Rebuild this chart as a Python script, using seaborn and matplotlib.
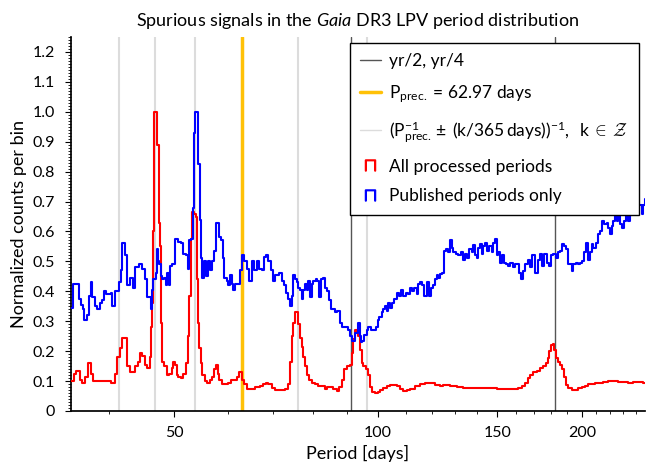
import numpy as np
import pandas as pd
import seaborn as sns
import matplotlib.pyplot as plt
from matplotlib.lines import Line2D
from matplotlib.ticker import FixedLocator, FuncFormatter, MultipleLocator, NullFormatter

# values (period in days, normalized counts)
red_period = [35.15, 35.55, 35.83, 36.33, 36.54, 36.95, 37.29, 37.63, 37.92, 40.36, 40.83, 41.19,
              41.53, 41.85, 42.60, 42.94, 43.79, 44.20, 44.50, 44.80, 45.21, 45.64, 46.03, 46.19,
              46.39, 46.55, 46.71, 47.18, 47.45, 47.62, 47.78, 47.99, 48.33, 48.72, 49.10, 49.55,
              49.82, 50.11, 50.40, 50.67, 51.14, 51.54, 51.96, 52.32, 52.61, 52.86, 53.15, 53.52,
              53.78, 53.97, 54.16, 54.39, 54.71, 55.01, 55.49, 55.93, 56.44, 56.76, 57.15, 57.54,
              57.93, 58.19, 58.73, 60.06, 60.62, 61.80, 62.29, 62.86, 63.36, 63.94, 64.66, 65.77,
              66.90, 67.66, 68.28, 68.82, 69.61, 70.40, 72.83, 73.66, 74.08, 74.51, 74.92, 75.35,
              76.20, 76.64, 77.08, 77.50, 77.95, 78.40, 79.10, 79.75, 80.65, 81.56, 83.43, 84.08,
              85.82, 86.82, 87.59, 88.31, 89.00, 90.02, 90.83, 91.35, 91.85, 92.39, 92.92, 93.44,
              93.97, 94.52, 95.05, 95.81, 96.47, 97.22, 97.98, 98.89, 99.80, 100.58, 101.72, 102.89,
              104.06, 106.44, 107.66, 108.87, 110.12, 111.38, 113.29, 115.23, 117.21, 121.26, 123.2,
              124.73, 127.60, 130.55, 133.5, 136.58, 139.72, 149.56, 152.11, 160.96, 162.85, 164.66,
              166.18, 167.49, 169.39, 171.37, 173.28, 175.27, 176.67, 177.92, 178.95, 179.88, 181.1,
              181.92, 182.77, 184.0, 185.47, 186.94, 188.2, 189.29, 190.81, 193.0, 197.41, 199.72,
              201.93, 204.25, 208.91, 214.9, 218.58, 222.34, 226.16, 230.0, 233.94, 237.98, 242.04,
              246.2, 250.0]
red_counts = [0.10, 0.125, 0.135, 0.105, 0.095, 0.115, 0.16, 0.125, 0.10, 0.095, 0.125, 0.18,
              0.21, 0.245, 0.15, 0.13, 0.15, 0.165, 0.195, 0.185, 0.155, 0.145, 0.18, 0.28,
              0.36, 0.60, 1.00, 0.89, 0.63, 0.55, 0.295, 0.165, 0.15, 0.12, 0.125, 0.145,
              0.165, 0.155, 0.12, 0.115, 0.11, 0.125, 0.16, 0.25, 0.385, 0.575, 0.665, 0.66,
              0.65, 0.44, 0.295, 0.21, 0.16, 0.12, 0.10, 0.095, 0.105, 0.115, 0.14, 0.155,
              0.125, 0.105, 0.09, 0.095, 0.105, 0.115, 0.13, 0.105, 0.09, 0.075, 0.073, 0.08,
              0.083, 0.09, 0.095, 0.09, 0.078, 0.07, 0.073, 0.09, 0.165, 0.25, 0.295, 0.33,
              0.29, 0.245, 0.215, 0.18, 0.15, 0.12, 0.105, 0.095, 0.09, 0.085, 0.075, 0.08,
              0.073, 0.067, 0.08, 0.105, 0.14, 0.15, 0.155, 0.195, 0.24, 0.27, 0.265, 0.25,
              0.205, 0.16, 0.15, 0.14, 0.12, 0.08, 0.065, 0.06, 0.065, 0.07, 0.078, 0.085,
              0.088, 0.082, 0.074, 0.068, 0.07, 0.075, 0.085, 0.09, 0.093, 0.088, 0.085,
              0.088, 0.084, 0.08, 0.076, 0.078, 0.076, 0.075, 0.073, 0.076, 0.082, 0.093,
              0.11, 0.12, 0.13, 0.135, 0.143, 0.15, 0.16, 0.177, 0.20, 0.222, 0.225,
              0.205, 0.177, 0.165, 0.155, 0.14, 0.115, 0.087, 0.076, 0.07, 0.076, 0.08,
              0.085, 0.09, 0.093, 0.097, 0.099, 0.10, 0.097, 0.097, 0.095, 0.097, 0.097,
              0.095, 0.095]

blue_period = [35.15, 35.43, 36.11, 36.43, 36.60, 36.77, 37.18, 37.36, 37.62, 37.83, 38.14, 38.40,
               38.80, 39.10, 39.33, 39.67, 40.35, 40.49, 40.82, 41.37, 41.65, 41.85, 42.32, 42.60,
               42.94, 43.42, 43.79, 44.30, 44.80, 45.21, 45.64, 46.19, 46.39, 46.55, 46.97, 47.18,
               47.34, 47.51, 47.73, 47.99, 48.33, 48.55, 48.83, 49.10, 49.33, 49.65, 50.11, 50.67,
               51.14, 51.54, 51.96, 52.32, 52.55, 52.91, 53.22, 53.40, 53.64, 54.25, 54.56, 54.75,
               55.00, 55.37, 55.68, 56.00, 56.44, 56.76, 57.21, 57.54, 58.19, 58.59, 58.92, 59.25,
               59.73, 60.06, 60.41, 60.76, 61.10, 61.45, 62.56, 62.99, 63.42, 63.93, 64.51, 65.03,
               65.54, 66.15, 66.74, 67.28, 67.81, 68.28, 68.82, 69.37, 69.85, 70.40, 71.43, 72.01,
               72.57, 73.08, 73.49, 74.08, 74.51, 74.92, 75.35, 75.79, 76.20, 76.64, 77.08, 77.50,
               77.95, 78.40, 78.84, 79.29, 79.75, 80.19, 80.92, 81.29, 81.85, 82.31, 82.97, 83.43,
               84.08, 84.66, 85.07, 86.32, 86.99, 87.80, 88.49, 90.11, 90.83, 91.35, 92.39, 93.44,
               93.89, 94.31, 94.73, 95.38, 96.16, 96.69, 97.57, 99.13, 99.80, 100.34, 101.16, 101.71,
               102.31, 102.89, 103.46, 104.06, 104.66, 105.6, 106.45, 107.28, 108.0, 108.87, 109.74,
               110.5, 111.38, 112.25, 113.02, 113.95, 114.58, 115.35, 116.14, 116.93, 117.9, 118.82,
               119.7, 120.6, 121.26, 121.95, 122.6, 123.55, 124.4, 124.94, 125.8, 126.77, 127.60,
               128.34, 129.05, 130.23, 131.25, 132.3, 133.22, 134.28, 135.33, 136.25, 137.38, 138.13,
               138.93, 139.73, 140.5, 141.30, 142.12, 142.9, 143.73, 144.86, 145.86, 147.05, 147.87,
               148.70, 149.56, 150.39, 151.24, 152.12, 153.32, 154.36, 155.57, 156.47, 157.9, 159.16,
               161.5, 162.44, 163.4, 164.66, 166.18, 167.49, 168.8, 170.36, 171.96, 173.28, 174.67,
               175.87, 177.3, 178.8, 179.88, 181.3, 182.77, 184.0, 185.47, 186.94, 188.2, 189.1,
               190.4, 193.0, 194.05, 195.64, 196.98, 198.52, 200.1, 201.5, 202.5, 203.9, 205.39,
               206.58, 207.72, 209.4, 210.85, 212.49, 214.17, 215.6, 217.4, 218.58, 219.84, 221.1,
               222.34, 223.60, 224.9, 226.16, 227.44, 228.8, 230.4, 231.9, 233.5, 235.30, 237.1,
               238.7, 240.7, 242.6, 244.8, 246.4, 247.6, 250.0]
blue_counts = [0.345, 0.425, 0.375, 0.355, 0.34, 0.305, 0.32, 0.385, 0.43, 0.38, 0.35, 0.34,
               0.36, 0.37, 0.40, 0.39, 0.395, 0.35, 0.40, 0.43, 0.47, 0.56, 0.52, 0.42,
               0.445, 0.41, 0.48, 0.49, 0.475, 0.44, 0.38, 0.34, 0.405, 0.44, 0.46, 0.54,
               0.50, 0.49, 0.45, 0.44, 0.445, 0.42, 0.46, 0.42, 0.485, 0.49, 0.575, 0.565,
               0.56, 0.525, 0.52, 0.475, 0.57, 0.575, 0.68, 0.93, 1.00, 0.825, 0.64, 0.51,
               0.445, 0.50, 0.45, 0.50, 0.47, 0.50, 0.535, 0.63, 0.58, 0.57, 0.51, 0.445,
               0.435, 0.42, 0.455, 0.425, 0.405, 0.425, 0.47, 0.52, 0.50, 0.475, 0.435, 0.50,
               0.47, 0.50, 0.475, 0.47, 0.515, 0.52, 0.50, 0.47, 0.435, 0.455, 0.46, 0.435,
               0.42, 0.395, 0.375, 0.35, 0.385, 0.455, 0.44, 0.43, 0.41, 0.405, 0.375, 0.405,
               0.425, 0.405, 0.435, 0.38, 0.425, 0.435, 0.44, 0.435, 0.38, 0.44, 0.445, 0.41,
               0.40, 0.37, 0.34, 0.33, 0.335, 0.295, 0.28, 0.27, 0.25, 0.235, 0.26, 0.295,
               0.25, 0.23, 0.235, 0.255, 0.27, 0.28, 0.27, 0.28, 0.305, 0.315, 0.33, 0.34,
               0.35, 0.335, 0.36, 0.345, 0.36, 0.375, 0.395, 0.385, 0.405, 0.385, 0.395,
               0.39, 0.41, 0.40, 0.41, 0.39, 0.425, 0.43, 0.42, 0.385, 0.43, 0.385,
               0.41, 0.42, 0.44, 0.455, 0.445, 0.457, 0.462, 0.535, 0.54, 0.53, 0.57,
               0.545, 0.53, 0.525, 0.52, 0.53, 0.505, 0.525, 0.51, 0.54, 0.53, 0.555,
               0.52, 0.51, 0.545, 0.557, 0.525, 0.552, 0.56, 0.535, 0.552, 0.53, 0.56,
               0.575, 0.52, 0.53, 0.495, 0.52, 0.495, 0.49, 0.485, 0.495, 0.48, 0.49,
               0.462, 0.44, 0.468, 0.49, 0.505, 0.48, 0.52, 0.462, 0.505, 0.525, 0.485,
               0.525, 0.495, 0.485, 0.52, 0.525, 0.51, 0.53, 0.535, 0.557, 0.552, 0.54,
               0.49, 0.468, 0.49, 0.495, 0.49, 0.495, 0.50, 0.53, 0.562, 0.505, 0.53,
               0.557, 0.545, 0.562, 0.59, 0.60, 0.636, 0.625, 0.63, 0.61, 0.59, 0.617,
               0.636, 0.66, 0.636, 0.655, 0.625, 0.61, 0.636, 0.66, 0.636, 0.655, 0.67,
               0.665, 0.677, 0.687, 0.66, 0.687, 0.71, 0.71]

p_prec = 62.97                     # days
year = 365.25
alias_k = [3, 2, 1, -1, -2]        # aliases visible in the window
x_major = [50, 100, 150, 200]
x_minor = [40, 60, 70, 80, 90, 110, 120, 130, 140, 160, 170, 180, 190, 210, 220, 230, 240]

sns.set_theme(style='ticks', rc={'axes.edgecolor': 'black', 'xtick.color': 'black',
                                 'ytick.color': 'black', 'text.color': 'black',
                                 'axes.labelcolor': 'black'})
plt.rcParams['font.family'] = ['Lato', 'DejaVu Sans']
plt.rcParams['mathtext.fontset'] = 'custom'
plt.rcParams['mathtext.rm'] = 'Lato'
plt.rcParams['mathtext.sf'] = 'Lato'
plt.rcParams['mathtext.it'] = 'Lato:italic'
plt.rcParams['mathtext.bf'] = 'Lato:bold'
plt.rcParams['mathtext.cal'] = 'cmsy10'

fig = plt.figure(figsize=(6.46, 4.62), dpi=100)
ax = fig.add_axes([0.1094, 0.1104, 0.889, 0.8095])

# spurious-period markers
for p in [year / 4, year / 2]:
    ax.axvline(p, color='#555555', lw=1, zorder=1)
for k in alias_k:
    ax.axvline(1 / (1 / p_prec + k / 365), color='#dcdcdc', lw=1.5, zorder=1)
ax.axvline(p_prec, color='#ffc107', lw=2.5, zorder=1)

red = pd.DataFrame({'period': red_period, 'counts': red_counts})
blue = pd.DataFrame({'period': blue_period, 'counts': blue_counts})
sns.lineplot(data=red, x='period', y='counts', color='red', linewidth=1.5,
             drawstyle='steps-post', ax=ax, zorder=3)
sns.lineplot(data=blue, x='period', y='counts', color='blue', linewidth=1.5,
             drawstyle='steps-post', ax=ax, zorder=3)

ax.set_xscale('log')
ax.set_xlim(35.15, 247.7)
ax.set_ylim(0, 1.25)
ax.xaxis.set_major_locator(FixedLocator(x_major))
ax.xaxis.set_major_formatter(FuncFormatter(lambda v, _: f'{v:g}'))
ax.xaxis.set_minor_locator(FixedLocator(x_minor))
ax.xaxis.set_minor_formatter(NullFormatter())
ax.yaxis.set_major_locator(MultipleLocator(0.1))
ax.yaxis.set_minor_locator(MultipleLocator(0.01))
ax.yaxis.set_major_formatter(FuncFormatter(lambda v, _: '0' if abs(v) < 1e-9 else f'{v:.1f}'))
ax.tick_params(which='major', direction='out', length=4, width=0.8, labelsize=11.5)
ax.tick_params(which='minor', direction='out', length=2, width=0.6)
ax.tick_params(axis='y', which='major', pad=7.5)
ax.tick_params(axis='x', which='major', pad=6.5)
ax.spines[['top', 'right']].set_visible(False)

ax.set_xlabel('Period [days]', fontsize=13)
ax.set_ylabel('Normalized counts per bin', fontsize=13)
ax.set_title(r'Spurious signals in the $\mathit{Gaia}$ DR3 LPV period distribution',
             fontsize=13, pad=8)

handles = [Line2D([], [], color='#555555', lw=1),
           Line2D([], [], color='#ffc107', lw=2.5),
           Line2D([], [], color='#dcdcdc', lw=1),
           Line2D([], [], color='red', marker=r'$\sqcap$', ls='none', ms=8),
           Line2D([], [], color='blue', marker=r'$\sqcap$', ls='none', ms=8)]
labels = ['yr/2, yr/4',
          r'$\mathrm{P}_\mathrm{prec.}$ = 62.97 days',
          r'$(\mathrm{P}_\mathrm{prec.}^{-1}\pm\;(\mathrm{k}/365\,\mathrm{days}))^{-1},\;\;\mathrm{k}\;\in\;\mathcal{Z}$',
          'All processed periods',
          'Published periods only']
leg = ax.legend(handles, labels, loc='upper right', fontsize=12.5, frameon=True, fancybox=False,
                edgecolor='black', framealpha=1, handlelength=1.2, handletextpad=0.5,
                labelspacing=0.8, borderpad=0.6, borderaxespad=0.35)
leg.get_frame().set_linewidth(1)
leg.set_zorder(5)

fig.savefig('out.png', dpi=100)
